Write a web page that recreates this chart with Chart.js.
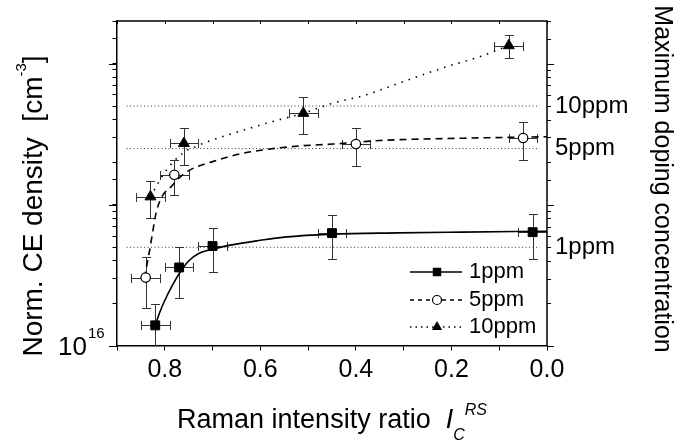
<!DOCTYPE html>
<html>
<head>
<meta charset="utf-8">
<title>Norm. CE density vs Raman intensity ratio</title>
<script src="https://cdn.jsdelivr.net/npm/chart.js@4.4.0/dist/chart.umd.min.js"></script>
<style>
    body { margin: 0; background: #fff; }
    #wrap { width: 681px; height: 447px; }
</style>
</head>
<body>
<div id="wrap"><canvas id="chart" width="681" height="447"></canvas></div>
<script>
// measured points (x = Raman intensity ratio, y = norm. CE density)
const x1ppm = [0.82, 0.77, 0.70, 0.45, 0.03];
const y1ppm = [1.40e16, 3.6e16, 5.1e16, 6.3e16, 6.4e16];
const yErr1ppm = [0.58e16, 1.43e16, 1.78e16, 2.2e16, 2.25e16];
const xErr1ppm = [0.03, 0.03, 0.03, 0.03, 0.03];

const x5ppm = [0.84, 0.78, 0.40, 0.05];
const y5ppm = [3.05e16, 1.63e17, 2.69e17, 2.97e17];
const yErr5ppm = [1.2e16, 0.46e17, 0.82e17, 0.9e17];
const xErr5ppm = [0.03, 0.03, 0.03, 0.03];

const x10ppm = [0.83, 0.76, 0.51, 0.08];
const y10ppm = [1.14e17, 2.72e17, 4.45e17, 1.34e18];
const yErr10ppm = [0.33e17, 0.8e17, 1.3e17, 0.25e18];
const xErr10ppm = [0.03, 0.03, 0.03, 0.03];

// fitted curves
const fit1X = [0.82, 0.81, 0.80, 0.785, 0.77, 0.75, 0.73, 0.70, 0.66, 0.60, 0.55, 0.45, 0.31, 0.18, 0.0];
const fit1Y = [1.4e16, 1.75e16, 2.1e16, 2.65e16, 3.25e16, 4.0e16, 4.5e16, 4.85e16, 5.2e16, 5.6e16, 5.9e16, 6.2e16, 6.32e16, 6.4e16, 6.5e16];

const fit5X = [0.843, 0.833, 0.825, 0.818, 0.81, 0.80, 0.786, 0.77, 0.748, 0.70, 0.643, 0.58, 0.517, 0.448, 0.35, 0.175, 0.0];
const fit5Y = [3.0e16, 4.5e16, 6.5e16, 8.8e16, 1.07e17, 1.22e17, 1.35e17, 1.55e17, 1.76e17, 2.02e17, 2.29e17, 2.48e17, 2.61e17, 2.69e17, 2.85e17, 2.96e17, 3.03e17];

const fit10X = [0.83, 0.80, 0.76, 0.733, 0.713, 0.657, 0.587, 0.51, 0.448, 0.378, 0.308, 0.21, 0.14, 0.08];
const fit10Y = [1.14e17, 1.7e17, 2.35e17, 2.6e17, 2.78e17, 3.2e17, 3.78e17, 4.45e17, 5.24e17, 6.0e17, 7.3e17, 9.5e17, 1.12e18, 1.34e18];

// maximum doping concentration levels (right side)
const refLabels = ['10ppm', '5ppm', '1ppm'];
const refLevels = [5.0e17, 2.5e17, 5.0e16];
const refXRange = [0.88, 0.015];

const legendLabels = ['1ppm', '5ppm', '10ppm'];

const FONT = "'Liberation Sans', Arial, Helvetica, sans-serif";

function pts(xs, ys) {
    return xs.map((x, i) => ({ x: x, y: ys[i] }));
}

const errorBars = {
    id: 'errorBars',
    beforeDatasetsDraw(chart) {
        const { ctx, chartArea: a, scales: { x, y } } = chart;
        ctx.save();
        ctx.beginPath();
        ctx.rect(a.left, a.top, a.right - a.left, a.bottom - a.top);
        ctx.clip();
        ctx.strokeStyle = '#333';
        ctx.lineWidth = 1;
        const cap = 4.5;
        chart.data.datasets.forEach(ds => {
            if (!ds.errY) return;
            ds.data.forEach((p, i) => {
                const px = Math.round(x.getPixelForValue(p.x)) + 0.5;
                const py = Math.round(y.getPixelForValue(p.y)) + 0.5;
                const top = Math.round(y.getPixelForValue(p.y + ds.errY[i])) + 0.5;
                const bot = Math.round(y.getPixelForValue(Math.max(p.y - ds.errY[i], 1e15))) + 0.5;
                const l = Math.round(x.getPixelForValue(p.x + ds.errX[i])) + 0.5;
                const r = Math.round(x.getPixelForValue(p.x - ds.errX[i])) + 0.5;
                ctx.beginPath();
                ctx.moveTo(px, top); ctx.lineTo(px, bot);
                ctx.moveTo(px - cap, top); ctx.lineTo(px + cap, top);
                ctx.moveTo(px - cap, bot); ctx.lineTo(px + cap, bot);
                ctx.moveTo(l, py); ctx.lineTo(r, py);
                ctx.moveTo(l, py - cap); ctx.lineTo(l, py + cap);
                ctx.moveTo(r, py - cap); ctx.lineTo(r, py + cap);
                ctx.stroke();
            });
        });
        ctx.restore();
    }
};

function marker(ctx, style, x, y, r) {
    ctx.beginPath();
    if (style === 'rect') {
        const s = r * Math.SQRT1_2;
        ctx.rect(x - s, y - s, 2 * s, 2 * s);
        ctx.fillStyle = '#000';
        ctx.fill();
    } else if (style === 'circle') {
        ctx.arc(x, y, r, 0, Math.PI * 2);
        ctx.fillStyle = '#fff';
        ctx.fill();
        ctx.setLineDash([]);
        ctx.lineWidth = 1.2;
        ctx.stroke();
    } else {
        ctx.moveTo(x, y - r);
        ctx.lineTo(x + r * 0.866, y + r * 0.5);
        ctx.lineTo(x - r * 0.866, y + r * 0.5);
        ctx.closePath();
        ctx.fillStyle = '#000';
        ctx.fill();
    }
}

const decorations = {
    id: 'decorations',
    afterDraw(chart) {
        const { ctx, chartArea: a, scales: { x, y } } = chart;
        ctx.save();
        ctx.strokeStyle = '#000';
        ctx.fillStyle = '#000';

        // top and right frame
        ctx.lineWidth = 1.5;
        ctx.beginPath();
        ctx.moveTo(a.left, a.top); ctx.lineTo(a.right, a.top); ctx.lineTo(a.right, a.bottom);
        ctx.stroke();

        ctx.lineWidth = 1;
        ctx.beginPath();
        x.ticks.forEach(t => {
            const px = Math.round(x.getPixelForValue(t.value)) + 0.5;
            ctx.moveTo(px, a.top); ctx.lineTo(px, a.top + 3);
        });
        y.ticks.forEach(t => {
            const py = Math.round(y.getPixelForValue(t.value)) + 0.5;
            const lg = Math.log10(t.value);
            const major = Math.abs(lg - Math.round(lg)) < 1e-6;
            ctx.moveTo(a.right, py); ctx.lineTo(a.right + (major ? 7 : 4), py);
            if (major) { ctx.moveTo(a.left - 8, py); ctx.lineTo(a.left, py); }
        });
        ctx.stroke();

        // 10^16 label
        ctx.textBaseline = 'alphabetic';
        ctx.textAlign = 'right';
        ctx.font = '26px ' + FONT;
        ctx.fillText('10', 87, 355);
        ctx.textAlign = 'left';
        ctx.font = '15px ' + FONT;
        ctx.fillText('16', 88, 338);

        // right side level labels
        ctx.font = '24px ' + FONT;
        ctx.textBaseline = 'middle';
        refLevels.forEach((v, i) => {
            ctx.fillText(refLabels[i], 555, y.getPixelForValue(v));
        });

        // x title: Raman intensity ratio I_C^RS
        ctx.textBaseline = 'alphabetic';
        const main = 'Raman intensity ratio  ';
        ctx.font = '27px ' + FONT;
        const wMain = ctx.measureText(main).width;
        ctx.font = 'italic 27px ' + FONT;
        const wI = ctx.measureText('I').width;
        ctx.font = 'italic 16px ' + FONT;
        const wC = ctx.measureText('C').width;
        const wRS = ctx.measureText('RS').width;
        const total = wMain + wI + wC + wRS;
        let sx = (a.left + a.right) / 2 - total / 2;
        ctx.font = '27px ' + FONT;
        ctx.fillText(main, sx, 428);
        sx += wMain;
        ctx.font = 'italic 27px ' + FONT;
        ctx.fillText('I', sx, 428);
        sx += wI;
        ctx.font = 'italic 16px ' + FONT;
        ctx.fillText('C', sx, 440);
        ctx.fillText('RS', sx + wC, 415);

        // left title: Norm. CE density [cm^-3]
        ctx.save();
        ctx.translate(42, 206);
        ctx.rotate(-Math.PI / 2);
        const l1 = 'Norm. CE density  [cm';
        ctx.font = '28px ' + FONT;
        const w1 = ctx.measureText(l1).width;
        const w3 = ctx.measureText(']').width;
        ctx.font = '15px ' + FONT;
        const w2 = ctx.measureText('-3').width;
        let lx = -(w1 + w2 + w3) / 2;
        ctx.font = '28px ' + FONT;
        ctx.fillText(l1, lx, 0);
        ctx.font = '15px ' + FONT;
        ctx.fillText('-3', lx + w1, -16);
        ctx.font = '28px ' + FONT;
        ctx.fillText(']', lx + w1 + w2, 0);
        ctx.restore();

        // right title
        ctx.save();
        ctx.translate(655, 179);
        ctx.rotate(Math.PI / 2);
        ctx.font = '25px ' + FONT;
        ctx.textAlign = 'center';
        ctx.fillText('Maximum doping concentration', 0, 0);
        ctx.restore();

        // legend
        const rows = [272, 300, 327];
        const styles = [
            { dash: [], marker: 'rect', r: 6 },
            { dash: [4, 4], marker: 'circle', r: 4.5 },
            { dash: [1.5, 4], marker: 'triangle', r: 6 }
        ];
        rows.forEach((ry, i) => {
            const s = styles[i];
            ctx.strokeStyle = '#000';
            ctx.lineWidth = 1.5;
            ctx.setLineDash(s.dash);
            ctx.beginPath();
            ctx.moveTo(410, ry); ctx.lineTo(462, ry);
            ctx.stroke();
            ctx.setLineDash([]);
            marker(ctx, s.marker, 437, ry, s.r);
            ctx.fillStyle = '#000';
            ctx.font = '22px ' + FONT;
            ctx.textAlign = 'left';
            ctx.textBaseline = 'middle';
            ctx.fillText(legendLabels[i], 469, ry);
        });
        ctx.restore();
    }
};

const refDatasets = refLevels.map(v => ({
    data: [{ x: refXRange[0], y: v }, { x: refXRange[1], y: v }],
    showLine: true,
    pointRadius: 0,
    borderColor: '#333',
    borderWidth: 1,
    borderDash: [1, 2.5]
}));

new Chart(document.getElementById('chart'), {
    type: 'scatter',
    data: {
        datasets: [
            {
                label: '1ppm', data: pts(x1ppm, y1ppm), errX: xErr1ppm, errY: yErr1ppm,
                showLine: false, pointStyle: 'rect', pointRadius: 6.3,
                backgroundColor: '#000', borderColor: '#000', borderWidth: 1
            },
            {
                label: '5ppm', data: pts(x5ppm, y5ppm), errX: xErr5ppm, errY: yErr5ppm,
                showLine: false, pointStyle: 'circle', pointRadius: 4.7,
                backgroundColor: '#fff', borderColor: '#000', borderWidth: 1.2
            },
            {
                label: '10ppm', data: pts(x10ppm, y10ppm), errX: xErr10ppm, errY: yErr10ppm,
                showLine: false, pointStyle: 'triangle', pointRadius: 6.3,
                backgroundColor: '#000', borderColor: '#000', borderWidth: 1
            },
            {
                data: pts(fit1X, fit1Y), showLine: true, pointRadius: 0,
                borderColor: '#000', borderWidth: 1.6, cubicInterpolationMode: 'monotone'
            },
            {
                data: pts(fit5X, fit5Y), showLine: true, pointRadius: 0,
                borderColor: '#000', borderWidth: 1.6, borderDash: [7, 5], cubicInterpolationMode: 'monotone'
            },
            {
                data: pts(fit10X, fit10Y), showLine: true, pointRadius: 0,
                borderColor: '#000', borderWidth: 1.6, borderDash: [1.5, 6], cubicInterpolationMode: 'monotone'
            },
            ...refDatasets
        ]
    },
    options: {
        responsive: false,
        animation: false,
        layout: { padding: { top: 21, right: 134, left: 0, bottom: 0 } },
        plugins: {
            legend: { display: false },
            tooltip: { enabled: false }
        },
        scales: {
            x: {
                type: 'linear',
                min: 0,
                max: 0.9,
                reverse: true,
                afterFit(scale) { scale.height = 101; },
                border: { color: '#000', width: 1.5 },
                grid: { drawOnChartArea: false, drawTicks: true, tickLength: 4.5, color: '#000', tickColor: '#000' },
                ticks: {
                    stepSize: 0.1,
                    autoSkip: false,
                    maxRotation: 0,
                    padding: 5,
                    color: '#000',
                    font: { family: FONT, size: 25 },
                    callback: v => (Math.round(v * 10) % 2 === 0 ? Number(v).toFixed(1) : '')
                }
            },
            y: {
                type: 'logarithmic',
                min: 1e16,
                max: 2e18,
                afterFit(scale) { scale.width = 117; },
                border: { color: '#000', width: 1.5 },
                grid: { drawOnChartArea: false, drawTicks: true, tickLength: 4.5, color: '#000', tickColor: '#000' },
                ticks: {
                    autoSkip: false,
                    color: '#000',
                    font: { family: FONT, size: 25 },
                    callback: () => ''
                }
            }
        }
    },
    plugins: [errorBars, decorations]
});
</script>
</body>
</html>
